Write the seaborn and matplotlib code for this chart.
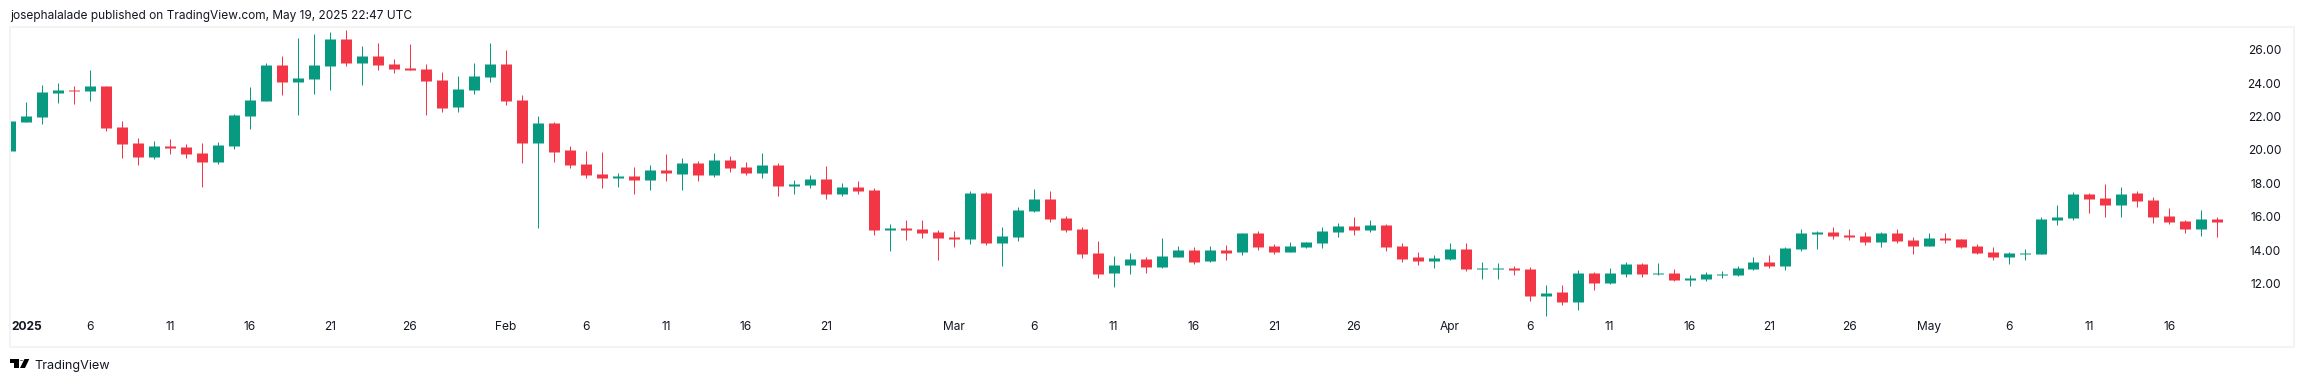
import pandas as pd
import matplotlib.pyplot as plt
from matplotlib.patches import Polygon, Circle
from matplotlib.transforms import ScaledTranslation
import seaborn as sns

# daily candles, 1 Jan - 19 May 2025
opens = [19.94, 21.67, 21.97, 23.41, 23.58, 23.53, 23.82, 21.37, 20.41, 19.58,
         20.23, 20.17, 19.82, 19.28, 20.23, 22.03, 22.93, 25.08, 24.06, 24.24,
         25.02, 26.64, 25.20, 25.62, 25.14, 24.90, 24.84, 24.18, 22.57, 23.58,
         24.36, 25.14, 22.99, 20.41, 21.61, 20.00, 19.16, 18.56, 18.32, 18.44,
         18.20, 18.80, 18.56, 19.22, 18.50, 19.40, 18.98, 18.62, 19.10, 17.84,
         17.90, 18.26, 17.36, 17.78, 17.60, 15.21, 15.33, 15.27, 15.09, 14.79,
         14.67, 17.42, 14.43, 14.79, 16.35, 17.06, 15.93, 15.27, 13.83, 12.64,
         13.11, 13.47, 12.99, 13.59, 14.01, 13.35, 14.01, 13.89, 15.03, 14.25,
         13.89, 14.19, 14.43, 15.09, 15.45, 15.21, 15.51, 14.25, 13.59, 13.35,
         13.47, 14.07, 12.88, 12.88, 12.93, 12.88, 11.26, 11.50, 10.90, 12.64,
         12.04, 12.58, 13.17, 12.58, 12.64, 12.22, 12.28, 12.52, 12.52, 12.88,
         13.29, 13.05, 14.07, 14.97, 15.09, 14.91, 14.85, 14.49, 15.03, 14.61,
         14.25, 14.73, 14.67, 14.25, 13.89, 13.59, 13.77, 13.77, 15.81, 15.93,
         17.36, 17.12, 16.70, 17.42, 17.00, 16.05, 15.75, 15.27, 15.87]
highs = [21.73, 22.87, 23.88, 24.00, 23.82, 24.78, 23.82, 21.73, 20.71, 20.53,
         20.65, 20.35, 20.41, 20.47, 22.15, 23.76, 25.20, 25.62, 26.70, 26.94,
         27.06, 27.18, 26.22, 26.40, 25.44, 26.34, 25.14, 24.66, 24.42, 25.20,
         26.40, 25.98, 23.29, 22.03, 21.67, 20.23, 19.94, 19.88, 18.62, 18.98,
         19.10, 19.76, 19.52, 19.34, 19.82, 19.64, 19.28, 19.82, 19.22, 18.20,
         18.50, 19.04, 18.02, 18.14, 17.72, 15.57, 15.81, 15.81, 15.21, 15.15,
         17.54, 17.48, 15.39, 16.58, 17.66, 17.54, 16.05, 15.39, 14.55, 13.65,
         13.83, 13.59, 14.73, 14.25, 14.19, 14.25, 14.31, 15.03, 15.15, 14.37,
         14.49, 14.49, 15.39, 15.63, 15.99, 15.81, 15.57, 14.43, 13.89, 13.71,
         14.43, 14.43, 13.29, 13.23, 13.05, 12.99, 11.92, 11.92, 12.82, 12.70,
         12.93, 13.29, 13.23, 13.23, 12.88, 12.52, 12.70, 12.76, 13.05, 13.59,
         13.71, 14.19, 15.27, 15.15, 15.39, 15.27, 15.09, 15.09, 15.27, 14.79,
         15.03, 15.03, 14.67, 14.37, 14.19, 13.89, 14.07, 15.99, 16.70, 17.48,
         17.42, 17.96, 17.78, 17.54, 17.18, 16.52, 15.81, 16.40, 15.99]
lows = [19.94, 21.67, 21.55, 22.81, 22.75, 22.93, 21.13, 19.52, 19.10, 19.46,
        19.76, 19.52, 17.78, 19.16, 20.05, 21.25, 22.93, 23.29, 22.09, 23.35,
        23.58, 25.02, 23.88, 24.78, 24.60, 24.78, 22.09, 22.27, 22.27, 23.35,
        24.06, 22.69, 19.22, 15.33, 19.28, 18.92, 18.32, 17.72, 17.78, 17.36,
        17.60, 18.14, 17.60, 18.14, 18.38, 18.68, 18.50, 18.32, 17.24, 17.36,
        17.72, 17.06, 17.24, 17.36, 14.91, 13.95, 14.61, 14.73, 13.41, 14.19,
        14.37, 14.31, 13.05, 14.55, 16.29, 15.69, 15.09, 13.53, 12.34, 11.80,
        12.58, 12.64, 12.93, 13.59, 13.17, 13.29, 13.41, 13.71, 14.01, 13.77,
        13.89, 14.13, 14.13, 14.79, 14.91, 15.09, 13.95, 13.29, 13.11, 12.93,
        13.41, 12.76, 12.28, 12.28, 12.52, 10.96, 10.06, 10.72, 10.42, 11.62,
        11.98, 12.40, 12.40, 12.52, 12.16, 11.86, 12.16, 12.34, 12.46, 12.82,
        12.93, 12.82, 13.95, 14.07, 14.67, 14.61, 14.31, 14.19, 14.43, 13.77,
        14.25, 14.43, 14.13, 13.77, 13.41, 13.17, 13.41, 13.77, 15.51, 15.81,
        16.23, 15.99, 15.99, 16.58, 15.63, 15.57, 15.03, 14.85, 14.79]
closes = [21.73, 22.03, 23.47, 23.58, 23.53, 23.82, 21.31, 20.35, 19.58, 20.23,
          20.11, 19.76, 19.28, 20.29, 22.09, 22.99, 25.08, 24.06, 24.30, 25.08,
          26.64, 25.20, 25.62, 25.08, 24.84, 24.78, 24.12, 22.51, 23.64, 24.42,
          25.14, 22.93, 20.41, 21.61, 19.88, 19.10, 18.50, 18.32, 18.44, 18.20,
          18.80, 18.62, 19.22, 18.50, 19.40, 18.92, 18.62, 19.10, 17.84, 17.96,
          18.26, 17.36, 17.78, 17.54, 15.21, 15.33, 15.21, 15.03, 14.73, 14.67,
          17.42, 14.43, 14.85, 16.40, 17.06, 15.87, 15.21, 13.77, 12.58, 13.11,
          13.47, 12.99, 13.65, 14.01, 13.29, 14.01, 13.83, 15.03, 14.19, 13.89,
          14.25, 14.49, 15.15, 15.45, 15.21, 15.51, 14.19, 13.47, 13.35, 13.53,
          14.07, 12.88, 12.93, 12.93, 12.82, 11.26, 11.44, 10.90, 12.64, 12.04,
          12.64, 13.17, 12.58, 12.64, 12.22, 12.34, 12.58, 12.58, 12.93, 13.29,
          13.05, 14.13, 15.03, 15.09, 14.85, 14.79, 14.49, 15.03, 14.55, 14.25,
          14.73, 14.61, 14.19, 13.83, 13.59, 13.83, 13.83, 15.87, 15.99, 17.36,
          17.06, 16.70, 17.36, 16.94, 15.99, 15.69, 15.27, 15.87, 15.69]

price_ticks = [12, 14, 16, 18, 20, 22, 24, 26]
date_ticks = [0, 5, 10, 15, 20, 25, 31, 36, 41, 46, 51, 59, 64, 69, 74, 79, 84,
              90, 95, 100, 105, 110, 115, 120, 125, 130, 135]
date_labels = ['2025', '6', '11', '16', '21', '26', 'Feb', '6', '11', '16', '21',
               'Mar', '6', '11', '16', '21', '26', 'Apr', '6', '11', '16', '21',
               '26', 'May', '6', '11', '16']

UP = '#089981'
DOWN = '#F23645'
TEXT = '#131722'
BORDER = '#F3F3F3'
W, H = 2304, 382

df = pd.DataFrame({'open': opens, 'high': highs, 'low': lows, 'close': closes})
df['day'] = range(len(df))
df['direction'] = ['up' if c >= o else 'down' for o, c in zip(opens, closes)]
palette = {'up': UP, 'down': DOWN}

sns.set_theme(style='white')
plt.rcParams['font.family'] = ['Inter', 'DejaVu Sans']

fig = plt.figure(figsize=(W / 100, H / 100), dpi=100, facecolor='white')
ax = fig.add_axes([10 / W, 1 - 347 / H, 2284.3 / W, 320 / H])

wicks = df.melt(id_vars=['day', 'direction'], value_vars=['high', 'low'], value_name='price')
bodies = df.melt(id_vars=['day', 'direction'], value_vars=['open', 'close'], value_name='price')

# just under 1px / 11px so the snapping keeps them on whole pixels
sns.lineplot(data=wicks, x='day', y='price', hue='direction', units='day', estimator=None,
             palette=palette, linewidth=0.7195, solid_capstyle='butt', legend=False, ax=ax)
sns.lineplot(data=bodies, x='day', y='price', hue='direction', units='day', estimator=None,
             palette=palette, linewidth=7.9195, solid_capstyle='butt', legend=False, ax=ax)

ax.set_xlim(0.042, 142.81)
ax.set_ylim(8.21, 27.357)
ax.set_xlabel('')
ax.set_ylabel('')

ax.yaxis.tick_right()
ax.set_yticks(price_ticks)
ax.set_yticklabels([f'{p:.2f}' for p in price_ticks])
ax.tick_params(axis='y', length=0, pad=-9.4, labelsize=8.64, labelcolor=TEXT)
for label in ax.get_yticklabels():
    label.set_ha('right')

ax.set_xticks(date_ticks)
ax.set_xticklabels(date_labels)
ax.tick_params(axis='x', length=0, pad=-14.5, labelsize=8.64, labelcolor=TEXT)
for label in ax.get_xticklabels():
    label.set_va('center')
first = ax.get_xticklabels()[0]
first.set_ha('left')
first.set_fontweight('bold')
first.set_transform(first.get_transform() + ScaledTranslation(1.7 / 100, 0, fig.dpi_scale_trans))

for spine in ax.spines.values():
    spine.set_visible(True)
    spine.set_color(BORDER)
    spine.set_linewidth(1.4395)

fig.text(10 / W, 1 - 16 / H, 'josephalalade published on TradingView.com, May 19, 2025 22:47 UTC',
         fontsize=8.55, color=TEXT, va='center', ha='left')
fig.text(34 / W, 1 - 365.5 / H, 'TradingView', fontsize=9.1, color=TEXT, va='center', ha='left')


def px(x, y):
    return x / W, 1 - y / H


# logo
fig.add_artist(Polygon([px(*p) for p in [(10, 359), (19, 359), (19, 368), (13.5, 368), (13.5, 362.5), (10, 362.5)]],
                       closed=True, transform=fig.transFigure, color='black', lw=0))
fig.add_artist(Circle(px(21.5, 360.7), 1.8 / W, transform=fig.transFigure, color='black', lw=0))
fig.add_artist(Polygon([px(*p) for p in [(24.5, 359), (29.3, 359), (25, 368), (20, 368)]],
                       closed=True, transform=fig.transFigure, color='black', lw=0))

fig.savefig('out.png', dpi=100, facecolor='white')
